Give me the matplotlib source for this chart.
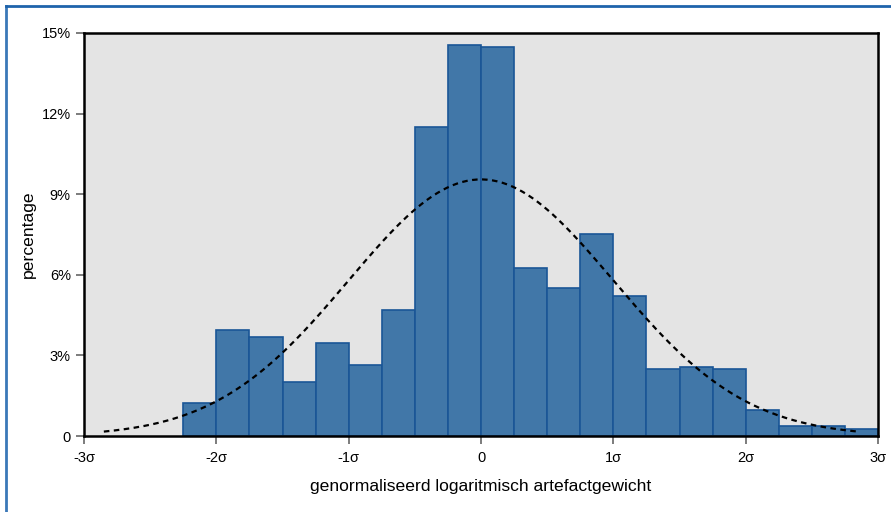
import matplotlib.pyplot as plt
import numpy as np
from matplotlib.lines import Line2D

plt.rcParams['font.family'] = ['Liberation Sans', 'DejaVu Sans']

# histogram bins (in sigma units) and bar heights in percent
bin_left = [-2.25, -2.0, -1.75, -1.5, -1.25, -1.0, -0.75, -0.5, -0.25, 0.0, 0.25,
            0.5, 0.75, 1.0, 1.25, 1.5, 1.75, 2.0, 2.25, 2.5, 2.75]
bin_width = 0.25
percent = [1.23, 3.94, 3.68, 2.01, 3.46, 2.64, 4.69, 11.5, 14.55, 14.48, 6.25,
           5.51, 7.52, 5.21, 2.49, 2.57, 2.49, 0.97, 0.37, 0.37, 0.26]

# fitted normal curve
curve_mean = 0.0
curve_sd = 1.0
curve_peak = 9.55
curve_from, curve_to = -2.85, 2.85

x_ticks = [-3, -2, -1, 0, 1, 2, 3]
x_labels = ['-3σ', '-2σ', '-1σ', '0', '1σ', '2σ', '3σ']
y_ticks = [0, 3, 6, 9, 12, 15]
y_labels = ['0', '3%', '6%', '9%', '12%', '15%']

fig = plt.figure(figsize=(8.91, 5.12), dpi=100)
ax = fig.add_axes([84 / 891, 1 - 436 / 512, 794 / 891, 403 / 512])
ax.set_facecolor('#e4e4e4')

ax.bar(bin_left, percent, width=bin_width, align='edge',
       color='#4177a8', edgecolor='#1a5696', linewidth=1.2, zorder=2)

xs = np.linspace(curve_from, curve_to, 300)
ys = curve_peak * np.exp(-0.5 * ((xs - curve_mean) / curve_sd) ** 2)
ax.plot(xs, ys, color='black', linestyle=(0, (2.5, 2)), linewidth=1.6, zorder=3)

ax.set_xlim(-3, 3)
ax.set_ylim(0, 15)
ax.set_xticks(x_ticks)
ax.set_xticklabels(x_labels)
ax.set_yticks(y_ticks)
ax.set_yticklabels(y_labels)
ax.tick_params(axis='both', labelsize=10.5, color='#666666', length=6, width=1.2)
ax.tick_params(axis='x', pad=5)
for s in ax.spines.values():
    s.set_linewidth(1.8)
    s.set_color('black')

ax.set_xlabel('genormaliseerd logaritmisch artefactgewicht', fontsize=12.6, labelpad=10)
ax.set_ylabel('percentage', fontsize=12.6, labelpad=4)

# blue frame on left and top edges
fig.add_artist(Line2D([6 / 891, 6 / 891], [0, 1 - 6 / 512], transform=fig.transFigure,
                      color='#3a78b8', linewidth=2))
fig.add_artist(Line2D([6 / 891, 1], [1 - 6 / 512, 1 - 6 / 512], transform=fig.transFigure,
                      color='#1e63ab', linewidth=2))

fig.savefig('out.png', dpi=100)
